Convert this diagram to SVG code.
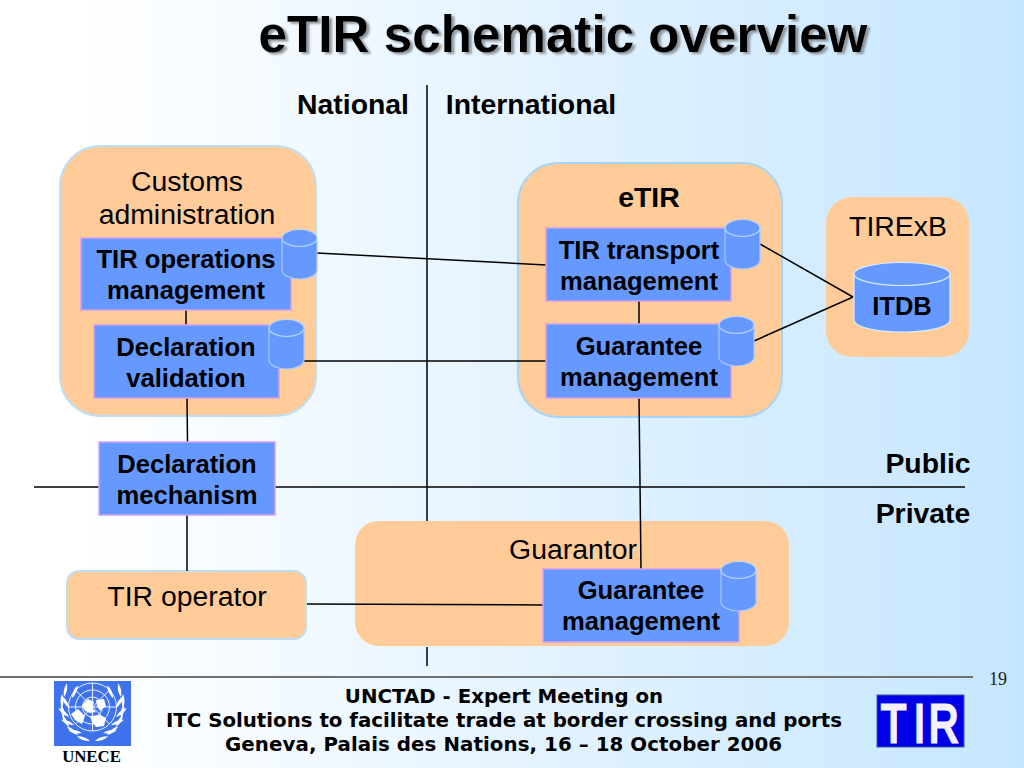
<svg xmlns="http://www.w3.org/2000/svg" width="1024" height="768" viewBox="0 0 1024 768">
<style>
text{font-family:"Liberation Sans",Arial,sans-serif;fill:#000;text-anchor:middle}
.b{font-weight:bold;font-size:25.6px}
.h{font-weight:bold;font-size:28.4px}
.r{font-size:28.4px}
.f{font-family:"DejaVu Sans",Verdana,sans-serif;font-weight:bold;font-size:19.8px}
.box{fill:#ffcc99;stroke:#bcdff5;stroke-width:2}
.blue{fill:#6699ff;stroke:#d6a0f0;stroke-width:1.500}
.cyl{fill:#6699ff;stroke:#a8c8f8;stroke-width:1.200}
.top{fill:#6699ff;stroke:#b8d8fc;stroke-width:1.200}
.c line{stroke:#000;stroke-width:1.500;fill:none}
</style>
<defs>
<linearGradient id="bg" x1="0" y1="0" x2="1" y2="0"><stop offset="0.08" stop-color="#ffffff"/><stop offset="1" stop-color="#c6e6ff"/></linearGradient>
<filter id="sh" x="-5%" y="-20%" width="110%" height="140%"><feDropShadow dx="3" dy="2" stdDeviation="1" flood-color="#8f959b"/></filter>
<g id="db">
<path class="cyl" d="M0 9V41C0 46 8 50 17.500 50S35 46 35 41V9Z"/>
<ellipse class="top" cx="17.500" cy="9" rx="17.500" ry="8.500"/>
</g>
<path id="leaf" d="M0 0C2 -5 2 -9 0 -14C-2 -9 -2 -5 0 0Z" fill="#fff"/>
<g id="branch">
<use href="#leaf" transform="translate(64 697) rotate(12)"/>
<use href="#leaf" transform="translate(72 698) rotate(24)"/>
<use href="#leaf" transform="translate(62 708) rotate(0)"/>
<use href="#leaf" transform="translate(69 708) rotate(-30)"/>
<use href="#leaf" transform="translate(64 718) rotate(-12)"/>
<use href="#leaf" transform="translate(69 717) rotate(-50)"/>
<use href="#leaf" transform="translate(69 727) rotate(-30)"/>
<use href="#leaf" transform="translate(74 725) rotate(-68)"/>
<use href="#leaf" transform="translate(78 735) rotate(-52)"/>
<use href="#leaf" transform="translate(82 733) rotate(-80)"/>
<use href="#leaf" transform="translate(90 741) rotate(-70)"/>
</g>
</defs>
<rect width="1024" height="768" fill="url(#bg)"/>
<text x="563" y="52" filter="url(#sh)" style="font-size:51.200px;font-weight:bold">eTIR schematic overview</text>
<g id="axis-labels">
<text class="h" x="353" y="114">National</text>
<text class="h" x="531" y="114">International</text>
<text class="h" x="928" y="473">Public</text>
<text class="h" x="923" y="523">Private</text>
</g>
<g id="customs"><rect class="box" x="60" y="146" width="256" height="270" rx="40"/>
<text class="r" x="187" y="191">Customs</text><text class="r" x="187" y="224">administration</text></g>
<g id="etir-box"><rect class="box" style="stroke:#a6d4f5" x="518" y="163" width="264" height="254" rx="40"/>
<text class="h" x="649" y="207">eTIR</text></g>
<g id="tirexb"><rect x="826" y="197" width="143" height="160" rx="26" fill="#ffcc99"/>
<text class="r" x="898" y="236">TIRExB</text></g>
<g id="guarantor"><rect x="355" y="521" width="434" height="125" rx="24" fill="#ffcc99"/>
<text class="r" x="573" y="559">Guarantor</text></g>
<g id="tir-operator"><rect class="box" x="67" y="571" width="239" height="68" rx="12"/>
<text class="r" x="187" y="606">TIR operator</text></g>
<g class="c" id="connectors">
<line x1="427" y1="85" x2="427" y2="521"/>
<line x1="427" y1="647" x2="427" y2="666"/>
<line x1="34" y1="487" x2="99" y2="487"/>
<line x1="275" y1="487" x2="965" y2="487"/>
<line x1="186" y1="310" x2="186" y2="325"/>
<line x1="187" y1="398" x2="187.500" y2="442"/>
<line x1="187" y1="515" x2="187" y2="571"/>
<line x1="317" y1="253" x2="546" y2="265"/>
<line x1="303" y1="361" x2="546" y2="361"/>
<line x1="639" y1="301" x2="639" y2="324"/>
<line x1="639" y1="398" x2="641" y2="569"/>
<line x1="760" y1="244" x2="853" y2="297"/>
<line x1="754" y1="341" x2="853" y2="297"/>
<line x1="307" y1="604" x2="543" y2="605"/>
</g>
<g id="tir-ops"><rect class="blue" x="81" y="238" width="210" height="72"/>
<text class="b" x="186" y="268">TIR operations</text><text class="b" x="186" y="299">management</text>
<use href="#db" x="282" y="229"/></g>
<g id="decl-val"><rect class="blue" x="94" y="325" width="185" height="73"/>
<text class="b" x="186" y="356">Declaration</text><text class="b" x="186" y="387">validation</text>
<use href="#db" x="269" y="319"/></g>
<g id="decl-mech"><rect class="blue" x="99" y="442" width="176" height="73"/>
<text class="b" x="187" y="473">Declaration</text><text class="b" x="187" y="504">mechanism</text></g>
<g id="tir-transport"><rect class="blue" x="546" y="228" width="185" height="73"/>
<text class="b" x="639" y="259">TIR transport</text><text class="b" x="639" y="290">management</text>
<use href="#db" x="725" y="219"/></g>
<g id="guarantee-etir"><rect class="blue" x="546" y="324" width="185" height="74"/>
<text class="b" x="639" y="355">Guarantee</text><text class="b" x="639" y="386">management</text>
<use href="#db" x="719" y="316"/></g>
<g id="guarantee-guarantor"><rect class="blue" x="543" y="569" width="196" height="73"/>
<text class="b" x="641" y="599">Guarantee</text><text class="b" x="641" y="630">management</text>
<use href="#db" x="721" y="561"/></g>
<g id="itdb"><path class="cyl" style="stroke:#d8ecfb" d="M854 274V320C854 327 875 332 902 332S950 327 950 320V274Z"/>
<ellipse class="top" style="stroke:#d8ecfb" cx="902" cy="274" rx="48" ry="11.500"/>
<text class="b" x="902" y="315">ITDB</text></g>
<g id="footer">
<line x1="0" y1="677" x2="973" y2="677" stroke="#707070" stroke-width="2"/>
<text x="998" y="685" style="font-family:'Liberation Serif',serif;font-size:18px;fill:#222">19</text>
<text class="f" x="504" y="703">UNCTAD - Expert Meeting on</text>
<text class="f" x="504" y="727">ITC Solutions to facilitate trade at border crossing and ports</text>
<text class="f" x="503.500" y="751" textLength="557">Geneva, Palais des Nations, 16 – 18 October 2006</text>
</g>
<g id="unece-logo">
<rect x="54" y="681" width="77" height="65" fill="#3f73ee"/>
<g fill="none" stroke="#fff" stroke-width="0.900">
<circle cx="92.500" cy="707" r="24"/><circle cx="92.500" cy="707" r="17"/><circle cx="92.500" cy="707" r="10"/>
<path d="M92.500 683V731M68.500 707H116.500M75.500 690L109.500 724M109.500 690L75.500 724"/>
</g>
<g fill="#fff">
<path d="M71 714L78 709L85 716L82 724L75 720Z"/>
<path d="M82 705L88 699L94 702L92 708L96 712L90 713L85 711Z"/>
<path d="M96 700L104 699L106 706L100 711L97 706Z"/>
<path d="M90 716L100 715L106 718L104 726L96 727L92 722Z"/>
</g>
<use href="#branch"/>
<use href="#branch" transform="translate(185 0) scale(-1 1)"/>
<text x="91.500" y="762" style="font-family:'Liberation Serif',serif;font-weight:bold;font-size:16.800px">UNECE</text>
</g>
<g id="tir-logo">
<rect x="877" y="695" width="87" height="52" fill="#0000e6" stroke="#3a5a9a"/>
<text transform="translate(881 741.500) scale(0.78 1)" x="0 41.900 61.200" y="0" style="font-size:53px;text-anchor:start;fill:#f4f0ff;stroke:#f4f0ff;stroke-width:3">TIR</text>
</g>
</svg>
